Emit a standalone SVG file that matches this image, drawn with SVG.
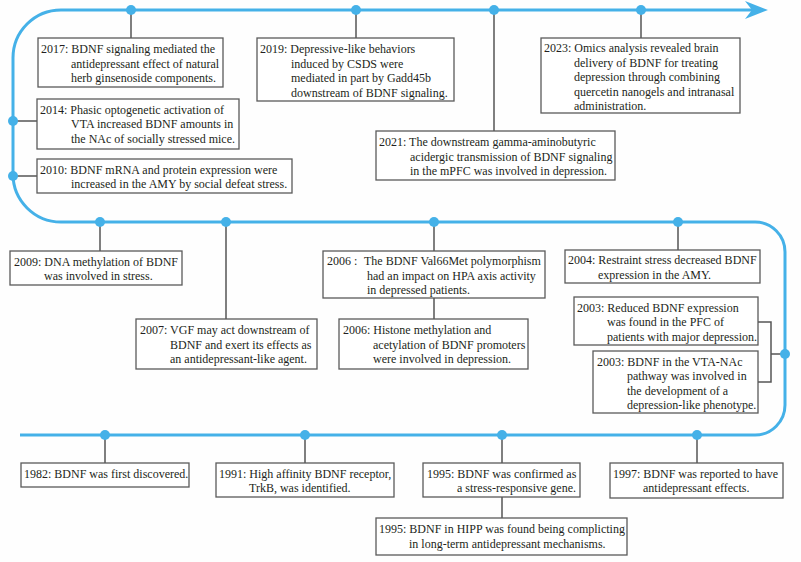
<svg xmlns="http://www.w3.org/2000/svg" width="801" height="562" viewBox="0 0 801 562">
<style>
.tl{fill:none;stroke:#45b1e8;stroke-width:3}
.dot{fill:#45b1e8}
.c{fill:none;stroke:#555;stroke-width:1.5}
.b{fill:#fff;stroke:#5a5a5a;stroke-width:1.3}
text{font-family:"Liberation Serif","Times New Roman",serif;font-size:12px;fill:#231f20}
</style>
<rect width="801" height="562" fill="#fefefe"/>
<g id="timeline">
<path class="tl" d="M752,10 H61 A48,48 0 0 0 13,58 V174 A48,48 0 0 0 61,222 H755 A30,30 0 0 1 785,252 V405 A30,30 0 0 1 755,435 H20"/>
<polygon class="dot" points="745,1 768,10 745,19 752,10"/>
</g>
<g id="connectors">
<path class="c" d="M131,10 V38 M356,10 V38 M494,10 V131 M641,10 V38 M13,121 H37 M13,176 H37"/>
<path class="c" d="M100,222 V251 M226,222 V319 M434,222 V251 M434,298 V319 M678,222 V250"/>
<path class="c" d="M758,322 H771 V382 H758 M771,354 H785"/>
<path class="c" d="M105,435 V463 M305,435 V463 M502,435 V463 M502,497 V518 M697,435 V463"/>
</g>
<g id="dots">
<circle class="dot" cx="131" cy="10" r="5"/><circle class="dot" cx="356" cy="10" r="5"/><circle class="dot" cx="494" cy="10" r="5"/><circle class="dot" cx="641" cy="10" r="5"/>
<circle class="dot" cx="13" cy="121" r="5"/><circle class="dot" cx="13" cy="176" r="5"/>
<circle class="dot" cx="100" cy="222" r="5"/><circle class="dot" cx="226" cy="222" r="5"/><circle class="dot" cx="434" cy="222" r="5"/><circle class="dot" cx="678" cy="222" r="5"/>
<circle class="dot" cx="785" cy="354" r="5"/>
<circle class="dot" cx="105" cy="435" r="5"/><circle class="dot" cx="305" cy="435" r="5"/><circle class="dot" cx="502" cy="435" r="5"/><circle class="dot" cx="697" cy="435" r="5"/>
</g>
<g id="n2017"><rect class="b" x="38" y="38" width="185" height="49"/>
<text x="41" y="53">2017: BDNF signaling mediated the<tspan x="71" y="67.5">antidepressant effect of natural</tspan><tspan x="71" y="82">herb ginsenoside components.</tspan></text></g>
<g id="n2014"><rect class="b" x="37" y="99" width="202" height="50"/>
<text x="40" y="113.5">2014: Phasic optogenetic activation of<tspan x="71" y="128">VTA increased BDNF amounts in</tspan><tspan x="71" y="142.5">the NAc of socially stressed mice.</tspan></text></g>
<g id="n2010"><rect class="b" x="37" y="159" width="255" height="34"/>
<text x="40" y="173.5">2010: BDNF mRNA and protein expression were<tspan x="71" y="188">increased in the AMY by social defeat stress.</tspan></text></g>
<g id="n2019"><rect class="b" x="257" y="38" width="197" height="63"/>
<text x="260" y="53">2019: Depressive-like behaviors<tspan x="291" y="67.5">induced by CSDS were</tspan><tspan x="291" y="82">mediated in part by Gadd45b</tspan><tspan x="291" y="96.5">downstream of BDNF signaling.</tspan></text></g>
<g id="n2021"><rect class="b" x="376" y="131" width="239" height="49"/>
<text x="379" y="146">2021: The downstream gamma-aminobutyric<tspan x="410" y="160.5">acidergic transmission of BDNF signaling</tspan><tspan x="410" y="175">in the mPFC was involved in depression.</tspan></text></g>
<g id="n2023"><rect class="b" x="541" y="38" width="199" height="75"/>
<text x="544" y="52">2023: Omics analysis revealed brain<tspan x="574" y="66.5">delivery of BDNF for treating</tspan><tspan x="574" y="81">depression through combining</tspan><tspan x="574" y="95.5">quercetin nanogels and intranasal</tspan><tspan x="574" y="110">administration.</tspan></text></g>
<g id="n2009"><rect class="b" x="10" y="251" width="172" height="34"/>
<text x="14" y="265.5">2009: DNA methylation of BDNF<tspan x="44" y="280">was involved in stress.</tspan></text></g>
<g id="n2007"><rect class="b" x="136" y="319" width="181" height="50"/>
<text x="140" y="334">2007: VGF may act downstream of<tspan x="170" y="348.5">BDNF and exert its effects as</tspan><tspan x="170" y="363">an antidepressant-like agent.</tspan></text></g>
<g id="n2006a"><rect class="b" x="323" y="251" width="222" height="47"/>
<text x="327" y="265">2006 :<tspan x="364">The BDNF Val66Met polymorphism</tspan><tspan x="367" y="279.5">had an impact on HPA axis activity</tspan><tspan x="367" y="294">in depressed patients.</tspan></text></g>
<g id="n2006b"><rect class="b" x="339" y="319" width="189" height="50"/>
<text x="343" y="334">2006: Histone methylation and<tspan x="373" y="348.5">acetylation of BDNF promoters</tspan><tspan x="373" y="363">were involved in depression.</tspan></text></g>
<g id="n2004"><rect class="b" x="565" y="250" width="195" height="33"/>
<text x="568" y="264">2004: Restraint stress decreased BDNF<tspan x="598" y="278.5">expression in the AMY.</tspan></text></g>
<g id="n2003a"><rect class="b" x="574" y="297" width="184" height="48"/>
<text x="577" y="311.5">2003: Reduced BDNF expression<tspan x="607" y="326">was found in the PFC of</tspan><tspan x="607" y="340.5">patients with major depression.</tspan></text></g>
<g id="n2003b"><rect class="b" x="593" y="351" width="165" height="62"/>
<text x="597" y="365.5">2003: BDNF in the VTA-NAc<tspan x="627" y="380">pathway was involved in</tspan><tspan x="627" y="394.5">the development of a</tspan><tspan x="627" y="409">depression-like phenotype.</tspan></text></g>
<g id="n1982"><rect class="b" x="21" y="463" width="168" height="24"/>
<text x="24" y="478">1982: BDNF was first discovered.</text></g>
<g id="n1991"><rect class="b" x="216" y="463" width="178" height="34"/>
<text x="219" y="477.5">1991: High affinity BDNF receptor,<tspan x="249" y="492">TrkB, was identified.</tspan></text></g>
<g id="n1995a"><rect class="b" x="423" y="463" width="157" height="34"/>
<text x="427" y="477.5">1995: BDNF was confirmed as<tspan x="457" y="492">a stress-responsive gene.</tspan></text></g>
<g id="n1995b"><rect class="b" x="376" y="518" width="251" height="37"/>
<text x="379" y="533">1995: BDNF in HIPP was found being complicting<tspan x="409" y="548">in long-term antidepressant mechanisms.</tspan></text></g>
<g id="n1997"><rect class="b" x="610" y="463" width="173" height="35"/>
<text x="613" y="477.5">1997: BDNF was reported to have<tspan x="643" y="492">antidepressant effects.</tspan></text></g>
</svg>
